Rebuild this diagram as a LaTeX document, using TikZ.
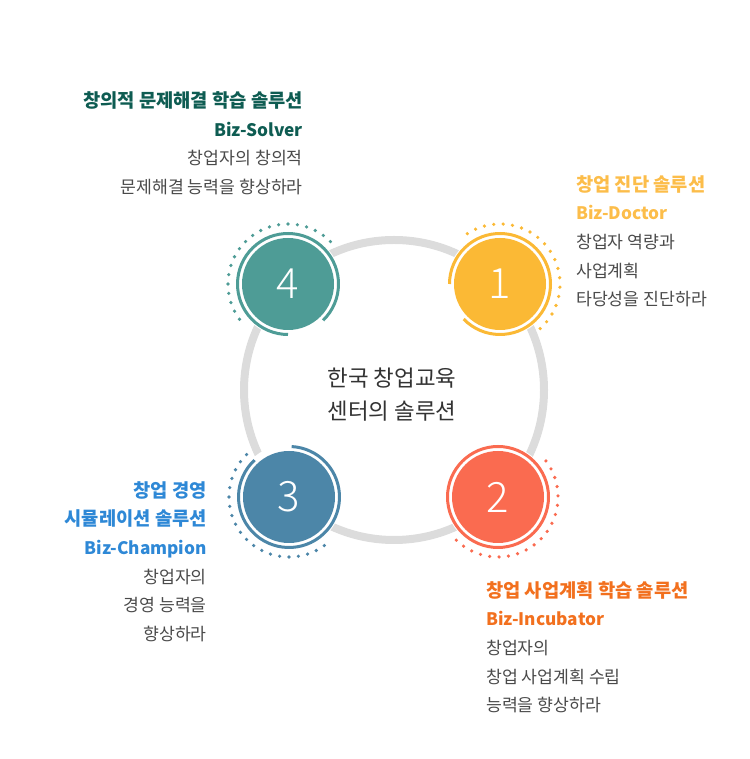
\documentclass[tikz,border=0pt]{standalone}
\usepackage{fontspec}
\setmainfont{Noto Sans CJK KR}
\newfontfamily\numfont{Noto Sans CJK KR Light}
\definecolor{ringgray}{HTML}{DCDCDC}
\definecolor{teal4}{HTML}{4E9C96}
\definecolor{yellow1}{HTML}{FBB935}
\definecolor{blue3}{HTML}{4C86A8}
\definecolor{coral2}{HTML}{FA6B50}
\definecolor{head4}{HTML}{0E5C52}
\definecolor{head1}{HTML}{FCBD4A}
\definecolor{head3}{HTML}{2E88D6}
\definecolor{head2}{HTML}{F2701E}
\definecolor{bodygray}{HTML}{4A4A4A}
\newcommand{\headline}[2]{\textcolor{#1}{\bfseries\fontsize{18.8}{28.7}\selectfont #2}}
\newcommand{\bizline}[2]{\textcolor{#1}{\bfseries #2}}

\begin{document}
\begin{tikzpicture}[x=1bp,y=1bp]
\tikzset{Disk/.style = {circle, minimum size = 92bp, inner sep = 0, fill = #1, text = white, font = \numfont\fontsize{42}{42}\selectfont, preaction = {fill = white, draw = white, line width = 14bp}},
Ring/.style = {line width = 3bp}, Info/.style = {inner sep = 0, text = bodygray, font = \fontsize{17.3}{28.7}\selectfont}}
\useasboundingbox (0,0) rectangle (750,759);
\draw[line width = 8bp, ringgray] (394,369) circle (150);

\node[Disk=teal4] (n4) at (288,475) {4} ; \node[Disk=yellow1] (n1) at (500,475) {1} ;
\node[Disk=blue3] (n3) at (289,262) {3} ; \node[Disk=coral2] (n2) at (498,262) {2} ;

\draw[Ring, teal4] (n4.center) ++(-46:50.5) arc[start angle = -46, end angle = 270, radius = 50.5];
\draw[Ring, yellow1] (n1.center) ++(224:50.5) arc[start angle = 224, end angle = 540, radius = 50.5];
\draw[Ring, blue3] (n3.center) ++(133:50.5) arc[start angle = 133, end angle = 447, radius = 50.5];
\draw[Ring, coral2] (n2) circle (50.5);
\foreach \a in {45,54,...,218} \fill[teal4] (n4.center) ++(\a:60) circle (1.8);
\foreach \a in {-48,-39,...,130} \fill[yellow1] (n1.center) ++(\a:60) circle (1.8);
\foreach \a in {135,144,...,308} \fill[blue3] (n3.center) ++(\a:60) circle (1.8);
\foreach \a in {-134,-125,...,38} \fill[coral2] (n2.center) ++(\a:60) circle (1.8);

\node[align = center, inner sep = 0, text = black!80, font = \fontsize{22.5}{33}\selectfont] (mid) at (392,364) {한국 창업교육\\센터의 솔루션};

\node[Info, anchor = north east, align = right] (t4) at (303,667.3) {\headline{head4}{창의적 문제해결 학습 솔루션}\\\bizline{head4}{Biz-Solver}\\창업자의 창의적\\문제해결 능력을 향상하라};
\node[Info, anchor = north west, align = left] (t1) at (576,583.8) {\headline{head1}{창업 진단 솔루션}\\\bizline{head1}{Biz-Doctor}\\창업자 역량과\\사업계획\\타당성을 진단하라};
\node[Info, anchor = north east, align = right] (t3) at (207,277.8) {\headline{head3}{창업 경영}\\\headline{head3}{시뮬레이션 솔루션}\\\bizline{head3}{Biz-Champion}\\창업자의\\경영 능력을\\향상하라};
\node[Info, anchor = north west, align = left] (t2) at (486,177.8) {\headline{head2}{창업 사업계획 학습 솔루션}\\\bizline{head2}{Biz-Incubator}\\창업자의\\창업 사업계획 수립\\능력을 향상하라};
\end{tikzpicture}
\end{document}
